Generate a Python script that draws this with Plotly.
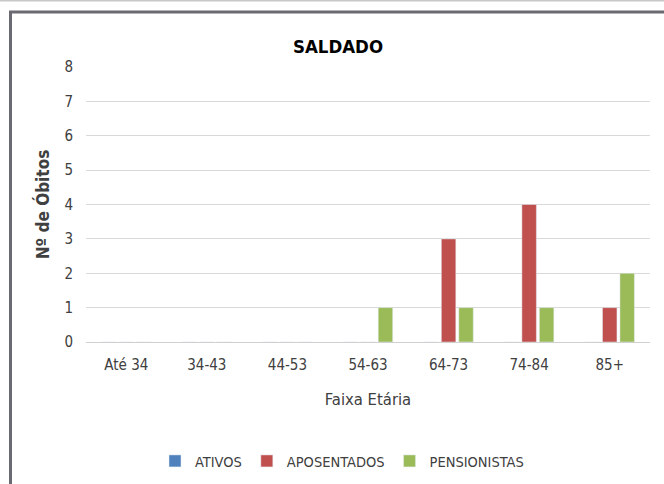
import plotly.graph_objects as go

categories = ["Até 34", "34-43", "44-53", "54-63", "64-73", "74-84", "85+"]
ativos = [0, 0, 0, 0, 0, 0, 0]
aposentados = [0, 0, 0, 0, 3, 4, 1]
pensionistas = [0, 0, 0, 1, 1, 1, 2]
y_ticks = [0, 1, 2, 3, 4, 5, 6, 7, 8]

FONT = "Liberation Sans Narrow, DejaVu Sans Condensed, Arial Narrow, sans-serif"

fig = go.Figure()
fig.add_trace(go.Bar(name="ATIVOS", x=categories, y=ativos, marker_color="#4f81bd"))
fig.add_trace(go.Bar(name="APOSENTADOS", x=categories, y=aposentados, marker_color="#c0504d"))
fig.add_trace(go.Bar(name="PENSIONISTAS", x=categories, y=pensionistas, marker_color="#9bbb59"))

W, H = 664, 484
L, R, T, B = 86, 14, 67, 142
pw, ph = W - L - R, H - T - B

def px(x):
    return (x - L) / pw

def py(y):
    return (H - B - y) / ph

shapes = [
    dict(type="line", xref="paper", yref="paper", x0=px(-5), x1=px(700), y0=py(0.5), y1=py(0.5),
         line=dict(color="#c8c8c8", width=2)),
    dict(type="line", xref="paper", yref="paper", x0=px(9), x1=px(700), y0=py(12), y1=py(12),
         line=dict(color="#6a6a72", width=3)),
    dict(type="line", xref="paper", yref="paper", x0=px(10.5), x1=px(10.5), y0=py(11), y1=py(520),
         line=dict(color="#6a6a72", width=3)),
]

fig.update_layout(
    width=W, height=H,
    margin=dict(l=L, r=R, t=T, b=B),
    paper_bgcolor="white", plot_bgcolor="white",
    font=dict(family=FONT, size=15, color="#404040"),
    barmode="group", bargap=0.35, bargroupgap=0.17,
    title=dict(text="<b>SALDADO</b>", x=338 / W, xref="container", xanchor="center",
               y=1 - 47 / H, yref="container", yanchor="middle",
               font=dict(family=FONT, size=18.5, color="#000000")),
    xaxis=dict(showgrid=False, showline=False, ticks="", ticklabelstandoff=12,
               tickfont=dict(size=15, color="#404040"),
               title=dict(text="Faixa Etária", standoff=20, font=dict(size=16.5, color="#404040"))),
    yaxis=dict(range=[0, 8], tickvals=y_ticks, showgrid=True, gridcolor="#d9d9d9", gridwidth=1,
               zeroline=True, zerolinecolor="#d0d0d0", zerolinewidth=1, showline=False, ticks="",
               ticklabelstandoff=12, tickfont=dict(size=15, color="#404040"),
               title=dict(text="<b>Nº de Óbitos</b>", standoff=10, font=dict(size=17, color="#404040"))),
    legend=dict(orientation="h", xref="container", yref="container", x=342 / W, xanchor="center",
                y=1 - 461 / H, yanchor="middle", font=dict(size=14.5, color="#404040"),
                itemwidth=30, traceorder="normal"),
    shapes=shapes,
)

fig.write_html("out.html", config={"displayModeBar": False},
               post_script="document.body.style.margin='0';document.body.style.overflow='hidden';")
